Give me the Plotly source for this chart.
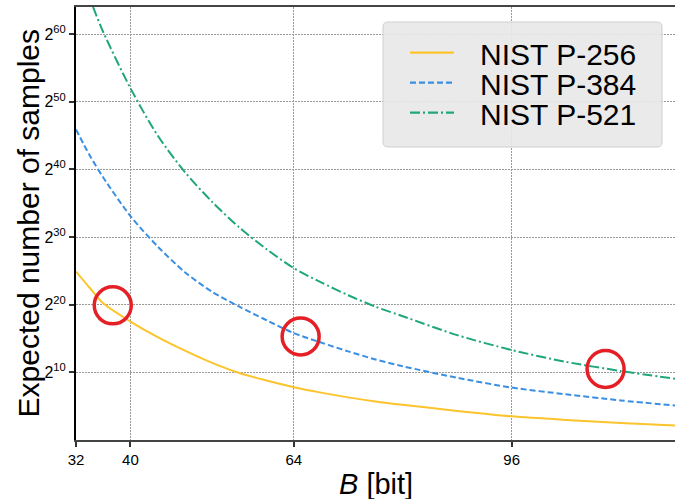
import plotly.graph_objects as go

# ---------------- data ----------------
curve_names = ["NIST P-256", "NIST P-384", "NIST P-521"]
curve_colors = ["#fcc42c", "#3b8fe2", "#1fa67d"]
curve_dashes = ["solid", "6px,3px", "10px,3px,2px,3px"]

# bit-length B of the known bits, and log2(expected number of samples)
B_256 = [32, 34, 36, 40, 44, 48, 52, 56, 60, 64, 68, 72, 76, 80, 88, 96, 104, 112, 120]
log2_samples_256 = [24.9, 22.5, 20.2, 17.5, 15.2, 13.2, 11.4, 9.9, 8.8, 7.8, 7.0, 6.3,
                    5.7, 5.2, 4.3, 3.5, 2.97, 2.52, 2.15]

B_384 = [32, 34, 36, 40, 44, 48, 52, 56, 60, 64, 68, 72, 76, 80, 88, 96, 104, 112, 120]
log2_samples_384 = [45.9, 42.1, 38.8, 33.1, 28.6, 24.8, 21.9, 19.7, 17.7, 15.8, 14.4, 13.1,
                    11.9, 10.9, 9.2, 7.75, 6.75, 5.85, 5.1]

B_521 = [34.5, 36, 40, 44, 48, 52, 56, 60, 64, 68, 72, 76, 80, 88, 96, 104, 112, 120]
log2_samples_521 = [64.0, 60.3, 52.0, 45.0, 39.6, 35.2, 31.4, 28.2, 25.4, 23.3, 21.4, 19.7,
                    18.3, 15.5, 13.3, 11.55, 10.2, 9.05]

# highlighted points (red circles)
circle_B = [37.4, 65.0, 109.8]
circle_log2 = [19.9, 15.3, 10.5]

x_tick_vals = [32, 40, 64, 96]
x_tick_labels = ["32", "40", "64", "96"]
y_tick_exps = [10, 20, 30, 40, 50, 60]
y_tick_labels = ["2<sup>10</sup>", "2<sup>20</sup>", "2<sup>30</sup>",
                 "2<sup>40</sup>", "2<sup>50</sup>", "2<sup>60</sup>"]

x_range = [32, 120]
y_exp_range = [0, 64]

# ---------------- figure ----------------
FONT = "Liberation Sans, Arial, Helvetica, sans-serif"
series = [(B_256, log2_samples_256), (B_384, log2_samples_384), (B_521, log2_samples_521)]

fig = go.Figure()
for (bx, ey), name, col, dash in zip(series, curve_names, curve_colors, curve_dashes):
    fig.add_trace(go.Scatter(
        x=bx, y=[2.0 ** e for e in ey], mode="lines", name=name,
        line=dict(color=col, width=2, dash=dash, shape="spline", smoothing=0.8),
        showlegend=False))

fig.add_trace(go.Scatter(
    x=circle_B, y=[2.0 ** e for e in circle_log2], mode="markers",
    marker=dict(symbol="circle-open", size=37, color="#e41f26", line=dict(width=3.5)),
    showlegend=False))

W, H = 675, 499
ML, MR, MT, MB = 76, 0, 7, 59
PW, PH = W - ML - MR, H - MT - MB

def px_x(px):
    return (px - ML) / PW

def px_y(py):
    return (H - MB - py) / PH

log10_2 = 0.30102999566
fig.update_layout(
    width=W, height=H,
    margin=dict(l=ML, r=MR, t=MT, b=MB),
    paper_bgcolor="white", plot_bgcolor="white",
    font=dict(family=FONT, color="black"),
    xaxis=dict(range=x_range, tickvals=x_tick_vals, ticktext=x_tick_labels,
               tickfont=dict(size=15), ticks="outside", ticklen=5, tickwidth=1.5,
               tickcolor="#333", showline=True, linecolor="#444", linewidth=2,
               mirror=True, showgrid=True, gridcolor="#9a9a9a", gridwidth=1.3,
               griddash="1.5px,1.5px", zeroline=False),
    yaxis=dict(type="log", range=[y_exp_range[0] * log10_2, y_exp_range[1] * log10_2],
               tickvals=[2.0 ** k for k in y_tick_exps], ticktext=y_tick_labels,
               tickfont=dict(size=16), ticks="outside", ticklen=5, tickwidth=1.5,
               tickcolor="#333", showline=True, linecolor="black", linewidth=2,
               showgrid=True, gridcolor="#9a9a9a", gridwidth=1.3,
               griddash="1.5px,1.5px", zeroline=False),
)

# axis titles
fig.add_annotation(xref="paper", yref="paper", x=px_x(28), y=0.5,
                   text="Expected number of samples", textangle=-90, showarrow=False,
                   font=dict(size=30), xanchor="center", yanchor="middle")
fig.add_annotation(xref="paper", yref="paper", x=0.5, y=px_y(484),
                   text="<i>B</i> [bit]", showarrow=False,
                   font=dict(size=29), xanchor="center", yanchor="middle")

# legend box (drawn manually to match the compact spacing)
lx0, lx1, ly0, ly1 = px_x(383), px_x(662), px_y(147), px_y(22)
rx, ry = 5 / PW, 5 / PH
path = (f"M {lx0 + rx},{ly0} L {lx1 - rx},{ly0} Q {lx1},{ly0} {lx1},{ly0 + ry} "
        f"L {lx1},{ly1 - ry} Q {lx1},{ly1} {lx1 - rx},{ly1} L {lx0 + rx},{ly1} "
        f"Q {lx0},{ly1} {lx0},{ly1 - ry} L {lx0},{ly0 + ry} Q {lx0},{ly0} {lx0 + rx},{ly0} Z")
fig.add_shape(type="path", path=path, xref="paper", yref="paper",
              fillcolor="rgba(232,232,232,0.92)", line=dict(color="#cfcfcf", width=1),
              layer="above")
row_y = [52.7, 82.7, 112.7]
for ry_px, name, col, dash in zip(row_y, curve_names, curve_colors, curve_dashes):
    fig.add_shape(type="line", xref="paper", yref="paper",
                  x0=px_x(410), x1=px_x(454), y0=px_y(ry_px), y1=px_y(ry_px),
                  line=dict(color=col, width=2.2, dash=dash), layer="above")
    fig.add_annotation(xref="paper", yref="paper", x=px_x(478), y=px_y(ry_px + 2),
                       text=name, showarrow=False, font=dict(size=30),
                       xanchor="left", yanchor="middle")

fig.write_html("out.html", config={"displayModeBar": False},
               post_script="document.body.style.margin='0';document.body.style.overflow='hidden';")
